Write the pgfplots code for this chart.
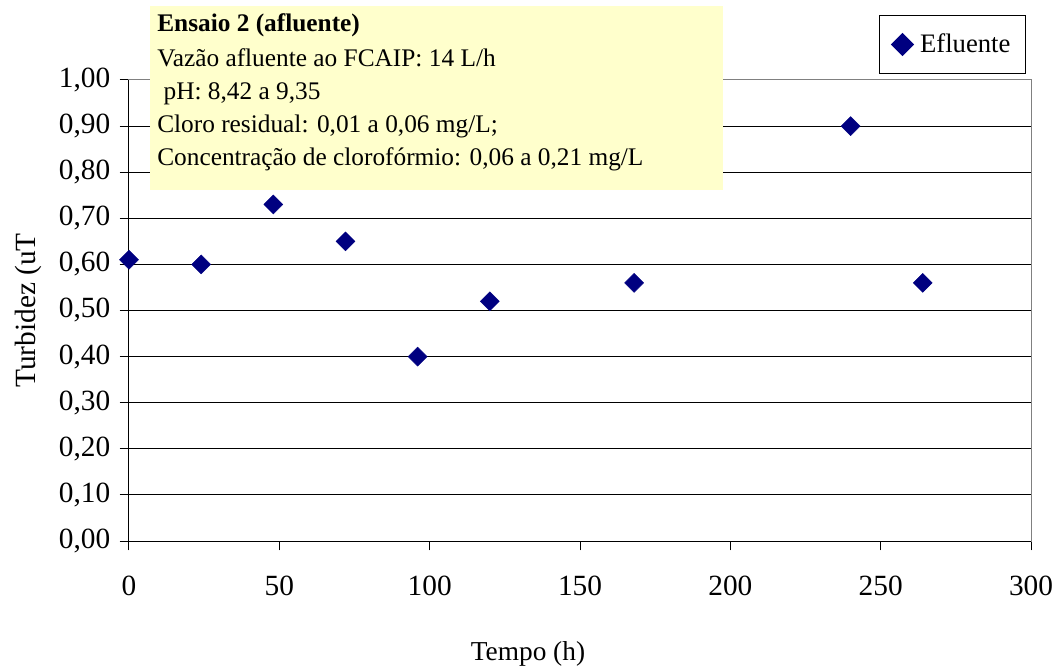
\documentclass[border=0pt]{standalone}
\usepackage{fontspec}
\setmainfont{Liberation Serif}
\usepackage{pgfplots}
\pgfplotsset{compat=1.18}
\definecolor{navymark}{HTML}{000080}
\definecolor{notefill}{HTML}{FFFFCC}
\definecolor{framegray}{HTML}{808080}

\begin{document}
\begin{tikzpicture}
\useasboundingbox (-96.75pt,-94.5pt) rectangle (695.25pt,405.75pt);
\begin{axis}[
  at={(0,0)}, anchor=south west,
  scale only axis,
  width=676.5pt, height=345.75pt,
  xmin=0, xmax=300, ymin=0, ymax=1,
  clip=false,
  xtick={0,50,100,150,200,250,300},
  ytick={0,0.1,0.2,0.3,0.4,0.5,0.6,0.7,0.8,0.9,1.0},
  xtick pos=bottom, ytick pos=left,
  tick align=outside,
  major tick length=7pt,
  tick style={black, line width=0.75pt},
  axis line style={framegray, line width=0.75pt},
  ymajorgrids,
  grid style={black, line width=0.75pt},
  /pgf/number format/assume math mode=true,
  yticklabel style={/pgf/number format/use comma, /pgf/number format/fixed,
    /pgf/number format/fixed zerofill, /pgf/number format/precision=2,
    xshift=-3.5pt},
  ticklabel style={font=\fontsize{22}{25}\selectfont},
  xticklabel style={yshift=-16pt},
  xlabel={Tempo (h)},
  xlabel style={font=\fontsize{20.5}{24}\selectfont, xshift=-39pt, yshift=-27pt},
  ylabel={Turbidez (uT},
  ylabel style={font=\fontsize{22}{25}\selectfont, yshift=6pt},
  legend style={at={(rel axis cs:0.994,1.141)}, anchor=north east,
    draw=black, fill=white, line width=0.75pt,
    font=\fontsize{20}{23}\selectfont,
    inner xsep=9pt, inner ysep=12pt,
    /tikz/every odd column/.append style={column sep=3pt}},
  legend cell align=left,
  legend image post style={mark size=5.8pt},
]
\addplot[only marks, mark=square*, mark size=5pt,
  mark options={rotate=45, fill=navymark, draw=navymark}]
  coordinates {
    (0,0.61) (24,0.60) (48,0.73) (72,0.65) (96,0.40)
    (120,0.52) (168,0.56) (240,0.90) (264,0.56)
  };
\addlegendentry{Efluente}
% left and bottom axis lines in black
\draw[black, line width=0.75pt] (rel axis cs:0,1) -- (rel axis cs:0,0) -- (rel axis cs:1,0);
% annotation box
\node[fill=notefill, draw=none, anchor=north west, inner sep=0pt,
  minimum width=429.75pt, minimum height=138pt] (note) at (rel axis cs:0.0233,1.1605) {};
\end{axis}
\begin{scope}[every node/.style={anchor=base west, inner sep=0pt, font=\fontsize{19}{22}\selectfont}]
\node at ([xshift=5.25pt, yshift=-19.5pt]note.north west) {\bfseries Ensaio 2 (afluente)};
\node at ([xshift=5.25pt, yshift=-45pt]note.north west) {Vazão afluente ao FCAIP: 14 L/h};
\node at ([xshift=5.25pt, yshift=-69.75pt]note.north west) {\ pH: 8,42 a 9,35};
\node at ([xshift=5.25pt, yshift=-94.5pt]note.north west) {Cloro residual: 0,01 a 0,06 mg/L;};
\node at ([xshift=5.25pt, yshift=-119.25pt]note.north west) {Concentração de clorofórmio: 0,06 a 0,21 mg/L};
\end{scope}
\end{tikzpicture}
\end{document}
